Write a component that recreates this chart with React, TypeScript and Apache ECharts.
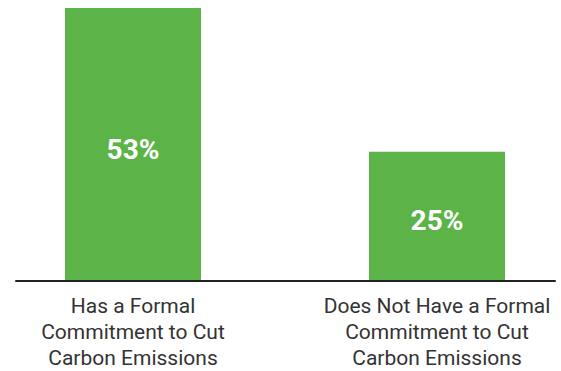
import React, { useEffect, useRef } from "react";
import * as echarts from "echarts";

const categories = [
  "Has a Formal\nCommitment to Cut\nCarbon Emissions",
  "Does Not Have a Formal\nCommitment to Cut\nCarbon Emissions",
];
const values = [53, 25];

export default function App() {
  const ref = useRef<HTMLDivElement>(null);
  useEffect(() => {
    if (!ref.current) return;
    const chart = echarts.init(ref.current, null, { renderer: "svg" });
    chart.setOption({
      animation: false,
      textStyle: { fontFamily: "Roboto" },
      grid: [
        { left: 133, right: 124, top: 8, bottom: 90 },
        { left: 16, right: 6, top: 8, bottom: 90 },
      ],
      xAxis: [
        {
          type: "category",
          gridIndex: 0,
          data: categories,
          boundaryGap: false,
          axisLine: { show: false },
          axisTick: { show: false },
          axisLabel: {
            color: "#333",
            fontSize: 21,
            lineHeight: 26,
            margin: 13,
            interval: 0,
            fontFamily: "Roboto",
          },
        },
        {
          type: "value",
          gridIndex: 1,
          min: 0,
          max: 1,
          axisLine: { show: true, lineStyle: { color: "#222", width: 2 } },
          axisTick: { show: false },
          axisLabel: { show: false },
          splitLine: { show: false },
        },
      ],
      yAxis: [
        { type: "value", gridIndex: 0, min: 0, max: 53, show: false },
        { type: "value", gridIndex: 1, min: 0, max: 1, show: false },
      ],
      series: [
        {
          type: "bar",
          xAxisIndex: 0,
          yAxisIndex: 0,
          data: values,
          barWidth: 136,
          clip: false,
          itemStyle: { color: "#5cb348" },
          label: {
            show: true,
            position: "inside",
            offset: [0, 5],
            formatter: "{c}%",
            color: "#fff",
            fontSize: 28,
            fontWeight: "bold",
            fontFamily: "Roboto",
          },
        },
      ],
    });
    return () => chart.dispose();
  }, []);
  return <div ref={ref} style={{ width: 561, height: 371, position: "absolute", left: 0, top: 0 }} />;
}
